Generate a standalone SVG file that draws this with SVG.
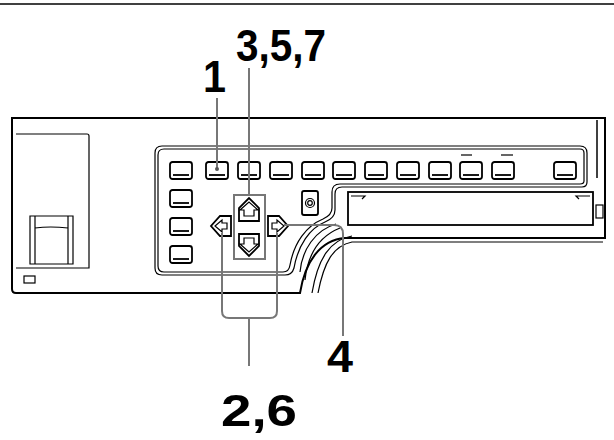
<svg xmlns="http://www.w3.org/2000/svg" width="614" height="440" viewBox="0 0 614 440">
<style>
.o{fill:#fff;stroke:#000;stroke-width:2}
.t{fill:none;stroke:#000;stroke-width:1.2}
.b{fill:#fff;stroke:#000;stroke-width:1.8}
.l{fill:none;stroke:#777;stroke-width:2}
.n{font-family:"Liberation Sans",Arial,sans-serif;font-weight:bold;fill:#000}
</style>
<defs>
<g id="btn"><rect x="0" y="0" width="22" height="17" rx="2.5" class="b"/><line x1="3" y1="13" x2="19" y2="13" stroke="#000" stroke-width="1.8"/></g>
</defs>
<line x1="0" y1="4" x2="614" y2="4" stroke="#000" stroke-width="1.5"/>
<g id="body">
<path d="M12,118 H605 V238 H345 C320,240 305,262 300,293 H16 Q12,293 12,289 Z" class="o" stroke-width="2.5"/>
<line x1="597" y1="120" x2="597" y2="178" stroke="#000" stroke-width="1.5"/>
<rect x="596" y="205" width="7" height="13" class="t"/>
<path d="M16,134 H87 Q89,134 89,136 V268 H16" class="t"/>
<path d="M30,216 H73 V264 H30 Z M35,216 L35,228 Q50,226 68,228 L68,216 M35,228 V264 M68,228 V264" class="t"/>
<rect x="24" y="276" width="11" height="7" class="t"/>
<path d="M318,293 C324,262 333,246 352,242 H603" class="t"/>
<path d="M312,293 C318,258 330,240 352,236" class="t" stroke-width="1.8"/>
</g>
<g id="panel">
<path d="M162,146 H580 Q587,146 587,153 V182 Q587,187 582,187 H342 Q335,187 335,194 V210 Q335,218 325,222 C310,228 298,245 294,268 Q292,275 285,275 H162 Q155,275 155,268 V153 Q155,146 162,146 Z" class="t" stroke-width="1.8"/>
<path d="M164,149 H580 Q584,149 584,153 V181 Q584,184 580,184 H340 Q332,184 332,192 V208 Q332,215 323,219 C306,226 294,243 290,265 Q289,272 283,272 H164 Q158,272 158,266 V155 Q158,149 164,149 Z" class="t" stroke-width="0.8"/>
<path d="M336,224 C315,230 302,250 300,272 M340,228 C320,236 308,252 305,280" class="t" stroke-width="0.9"/>
</g>
<g id="buttons">
<use href="#btn" x="170" y="162"/><use href="#btn" x="206" y="162"/><use href="#btn" x="238" y="162"/><use href="#btn" x="270" y="162"/><use href="#btn" x="302" y="162"/><use href="#btn" x="333" y="162"/><use href="#btn" x="365" y="162"/><use href="#btn" x="397" y="162"/><use href="#btn" x="429" y="162"/><use href="#btn" x="460" y="162"/><use href="#btn" x="492" y="162"/><use href="#btn" x="554" y="162"/>
<line x1="461" y1="155" x2="472" y2="155" stroke="#000" stroke-width="1.2"/>
<line x1="501" y1="155" x2="513" y2="155" stroke="#000" stroke-width="1.2"/>
<use href="#btn" x="170" y="190"/><use href="#btn" x="170" y="218"/><use href="#btn" x="170" y="246"/>
<rect x="302" y="191" width="16" height="24" rx="2" class="b"/>
<circle cx="310" cy="203" r="4.5" class="t"/><circle cx="310" cy="203" r="2.3" class="t"/>
<rect x="348" y="192" width="245" height="33" class="b"/>
<path d="M351,196 H365 L362,199 M590,196 H576 L579,199" class="t" stroke-width="0.8"/>
</g>
<g id="arrows">
<rect x="234" y="195" width="31" height="64" fill="none" stroke="#777" stroke-width="2"/>
<path d="M239,221 V208 L249,198 L259,208 V221 Z" class="b"/>
<path d="M244,216 V210 H240 L249,202 L258,210 H254 V216 Z" class="t"/>
<path d="M239,234 V246 L249,256 L259,246 V234 Z" class="b"/>
<path d="M244,238 V244 H240 L249,252 L258,244 H254 V238 Z" class="t"/>
<path d="M231,216 H220 L211,226 L220,236 H231 Z" class="b"/>
<path d="M227,223 H222 V220 L215,226 L222,232 V229 H227 Z" class="t"/>
<path d="M268,216 H279 L288,226 L279,236 H268 Z" class="b"/>
<path d="M272,223 H277 V220 L284,226 L277,232 V229 H272 Z" class="t"/>
</g>
<g id="connectors">
<line x1="217" y1="98" x2="217" y2="170" class="l"/>
<circle cx="217" cy="169" r="2" fill="#555"/>
<line x1="249" y1="68" x2="249" y2="195" class="l"/>
<path d="M222,233 V311 Q222,318 229,318 H270 Q277,318 277,311 V233 M249,318 V366" class="l"/>
<path d="M284,225 H334 Q343,225 343,234 V336" class="l"/>
</g>
<g id="labels">
<text x="203" y="92" class="n" font-size="44" textLength="23" lengthAdjust="spacingAndGlyphs">1</text>
<text x="236" y="61" class="n" font-size="44" textLength="90" lengthAdjust="spacingAndGlyphs">3,5,7</text>
<text x="327" y="372" class="n" font-size="44" textLength="26" lengthAdjust="spacingAndGlyphs">4</text>
<text x="221" y="426" class="n" font-size="44" textLength="76" lengthAdjust="spacingAndGlyphs">2,6</text>
</g>
</svg>
